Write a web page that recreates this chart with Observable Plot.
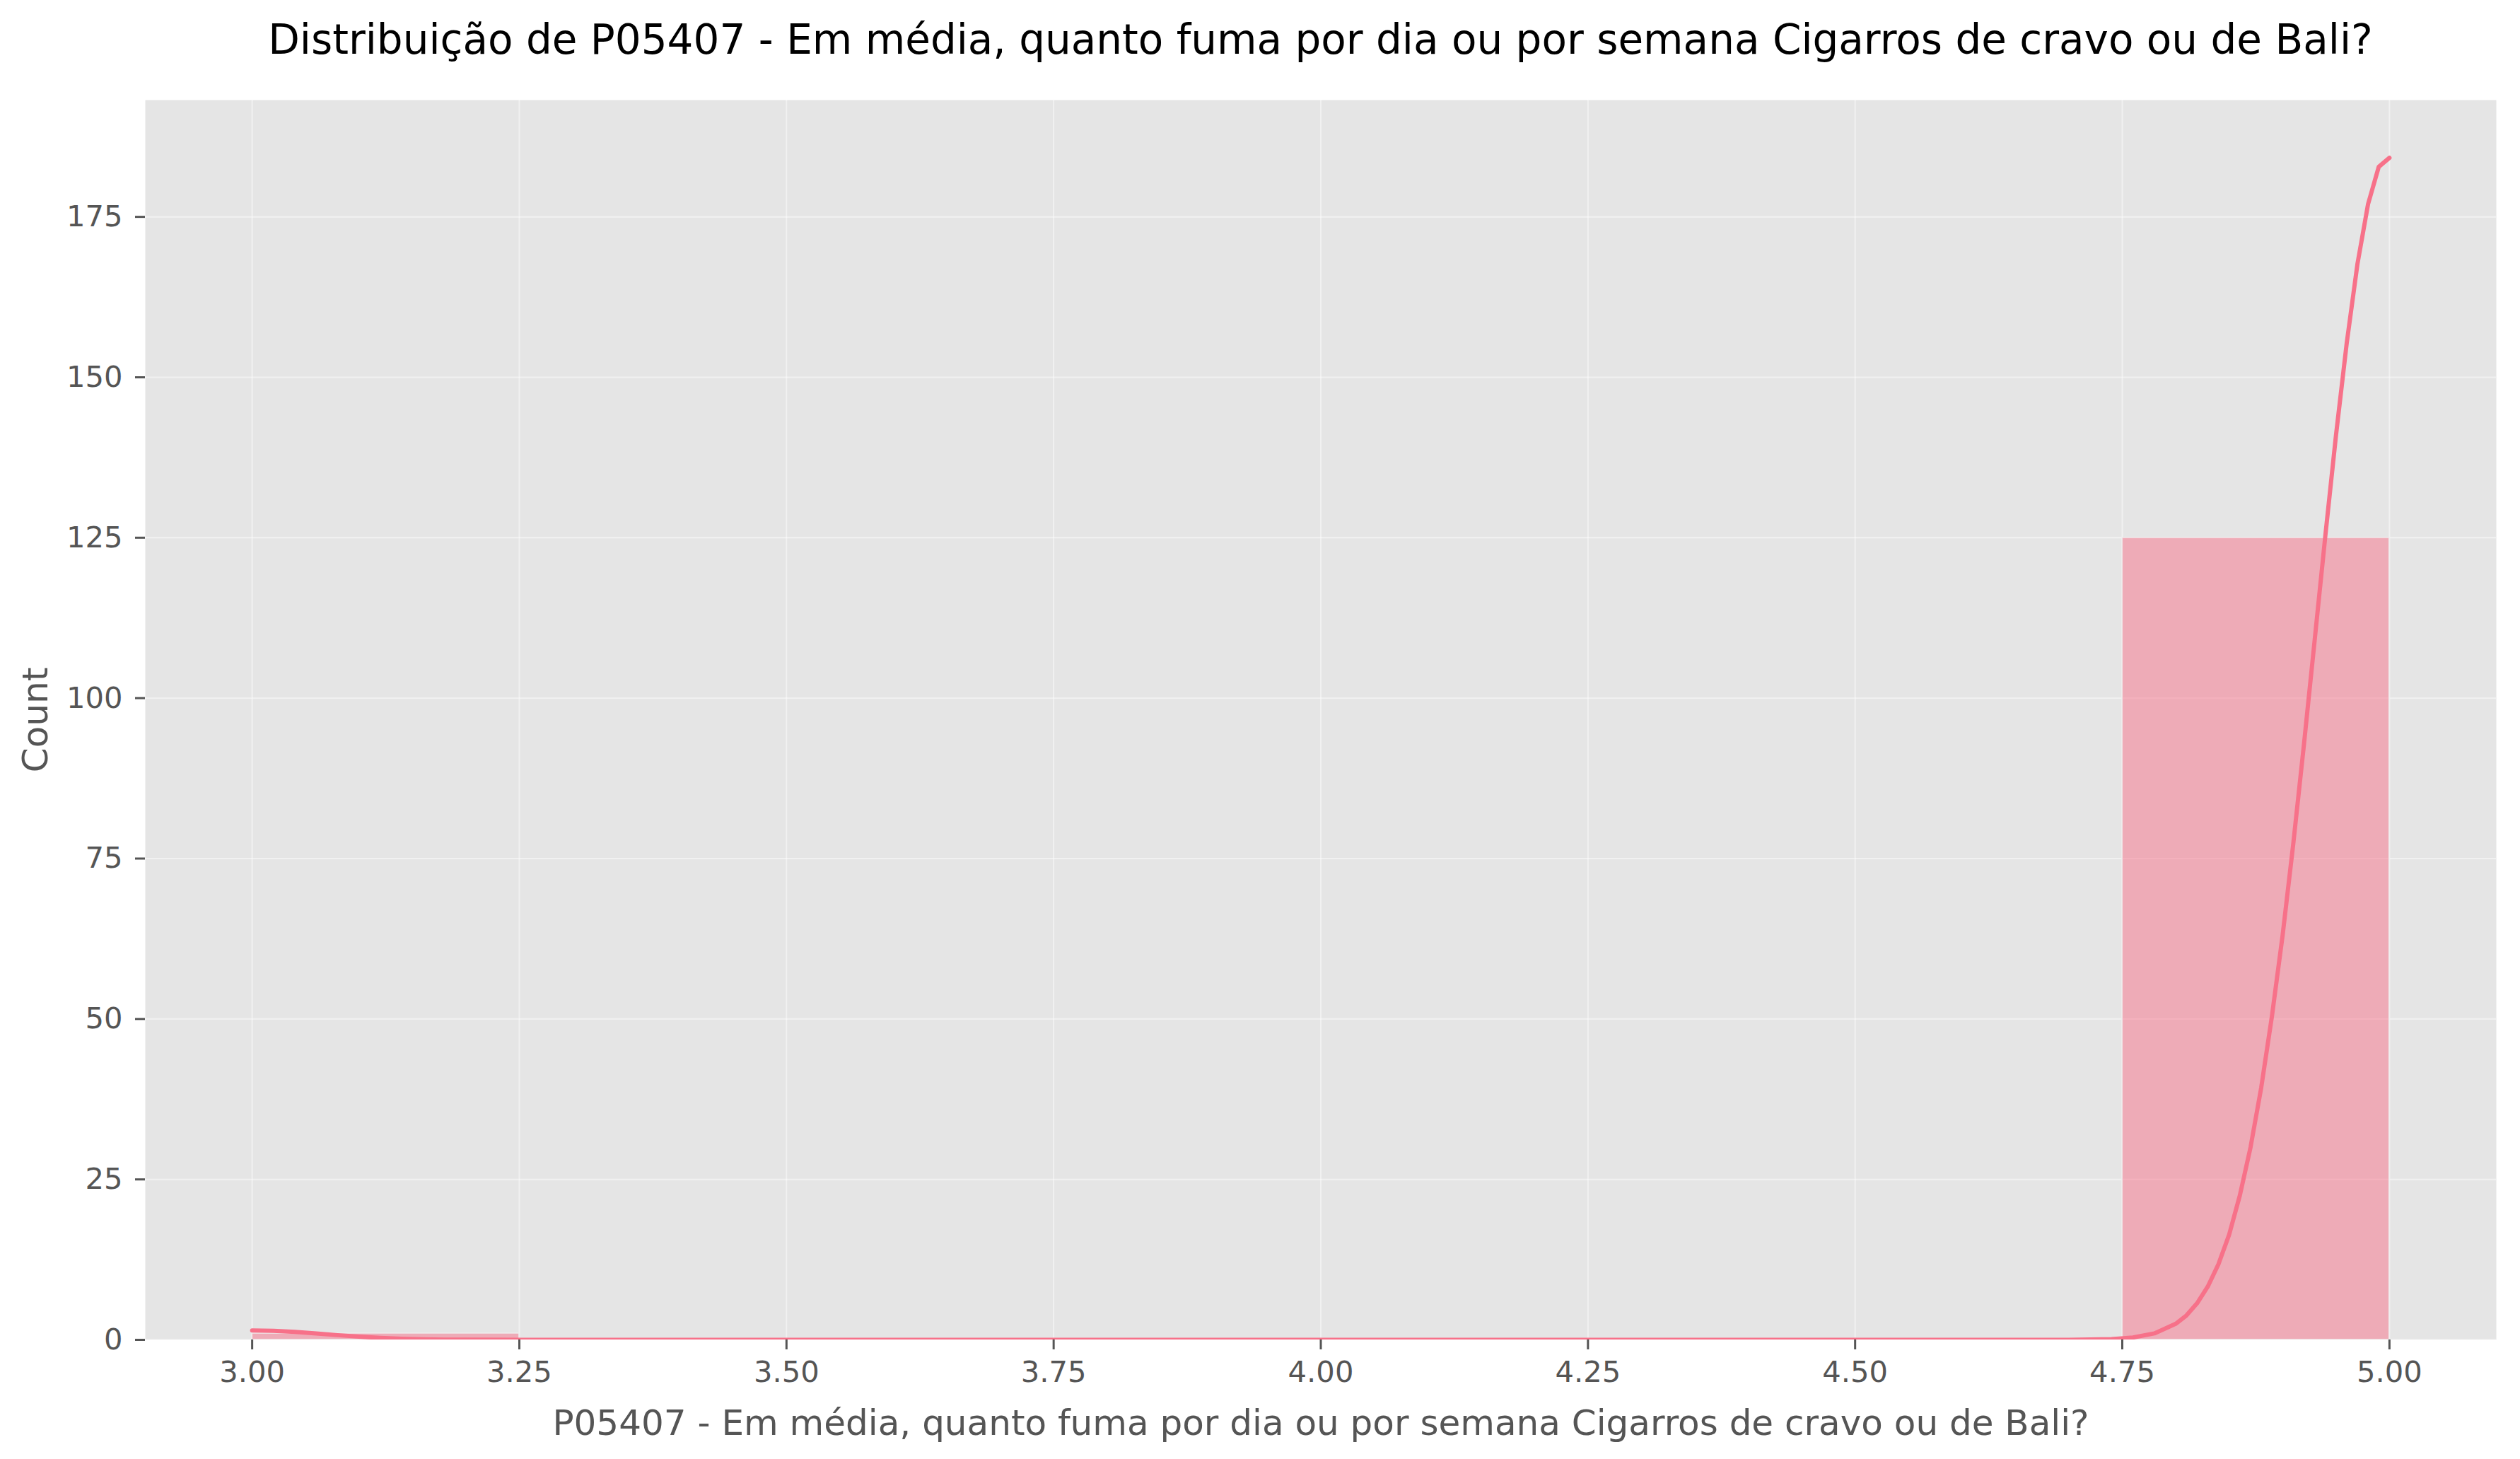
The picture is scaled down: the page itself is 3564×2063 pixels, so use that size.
<!DOCTYPE html>
<html><head><meta charset="utf-8">
<script src="https://cdn.jsdelivr.net/npm/d3@7"></script>
<script src="https://cdn.jsdelivr.net/npm/@observablehq/plot@0.6"></script>
<style>
body{margin:0;background:#fff;font-family:"DejaVu Sans";}
#title{width:3564px;height:114px;box-sizing:border-box;padding-left:205px;padding-right:34px;text-align:center;font-size:58px;line-height:112px;color:#000;white-space:nowrap;}
</style></head><body>
<div id="title">Distribuição de P05407 - Em média, quanto fuma por dia ou por semana Cigarros de cravo ou de Bali?</div>
<div id="chart"></div>
<script>
const xLabel = "P05407 - Em média, quanto fuma por dia ou por semana Cigarros de cravo ou de Bali?";
const yLabel = "Count";
const binStarts = [3.00, 3.25, 3.50, 3.75, 4.00, 4.25, 4.50, 4.75];
const binEnds   = [3.25, 3.50, 3.75, 4.00, 4.25, 4.50, 4.75, 5.00];
const counts    = [1, 0, 0, 0, 0, 0, 0, 125];
const kdeX = [3.00, 3.02, 3.04, 3.06, 3.08, 3.10, 3.12, 3.14, 3.16, 3.18, 3.20, 3.25, 3.50, 4.00, 4.50, 4.70, 4.74, 4.76, 4.78, 4.80, 4.81, 4.82, 4.83, 4.84, 4.85, 4.86, 4.87, 4.88, 4.89, 4.90, 4.91, 4.92, 4.93, 4.94, 4.95, 4.96, 4.97, 4.98, 4.99, 5.00];
const kdeY = [1.47, 1.40, 1.23, 0.99, 0.73, 0.49, 0.30, 0.17, 0.09, 0.04, 0.02, 0.0, 0.0, 0.0, 0.0, 0.01, 0.12, 0.36, 1.0, 2.5, 3.8, 5.7, 8.3, 11.8, 16.4, 22.5, 30.0, 39.3, 50.4, 63.0, 77.3, 92.8, 109.0, 125.3, 141.0, 155.3, 167.6, 177.0, 182.8, 184.2];
const xTicks = [3.00, 3.25, 3.50, 3.75, 4.00, 4.25, 4.50, 4.75, 5.00];
const yTicks = [0, 25, 50, 75, 100, 125, 150, 175];

const bins = binStarts.map((s, i) => ({x1: s, x2: binEnds[i], count: counts[i]}));
const kde = kdeX.map((x, i) => ({x, y: kdeY[i]}));
const fmt = d3.format(".2f");

const chart = Plot.plot({
  width: 3564,
  height: 1949,
  marginLeft: 205,
  marginRight: 34,
  marginTop: 27,
  marginBottom: 169,
  style: {fontFamily: "DejaVu Sans", fontSize: "41.7px", color: "#555555", background: "transparent"},
  x: {domain: [2.9, 5.1]},
  y: {domain: [0, 193.2]},
  marks: [
    Plot.frame({fill: "#E5E5E5", stroke: null}),
    Plot.gridX(xTicks, {stroke: "white", strokeOpacity: 0.45, strokeWidth: 2}),
    Plot.gridY(yTicks, {stroke: "white", strokeOpacity: 0.45, strokeWidth: 2}),
    Plot.rect(bins, {x1: "x1", x2: "x2", y1: 0, y2: "count", fill: "#F77189", fillOpacity: 0.5, stroke: "#EEEEEE", strokeWidth: 1.5, clip: true}),
    Plot.line(kde, {x: "x", y: "y", stroke: "#F77189", strokeWidth: 6, clip: true}),
    Plot.axisX(xTicks, {tickSize: 14, tickPadding: 16, tickFormat: fmt, label: null, strokeWidth: 3, fontSize: 41.7}),
    Plot.axisY(yTicks, {tickSize: 14, tickPadding: 18, label: null, strokeWidth: 3, fontSize: 41.7}),
    Plot.text([xLabel], {frameAnchor: "bottom", dy: 118, text: d => d, fontSize: 50, fill: "#555555", lineAnchor: "middle"}),
    Plot.text([yLabel], {frameAnchor: "left", dx: -155, text: d => d, fontSize: 50, fill: "#555555", rotate: -90, lineAnchor: "middle", textAnchor: "middle"})
  ]
});
document.getElementById("chart").appendChild(chart);
</script>
</body></html>
